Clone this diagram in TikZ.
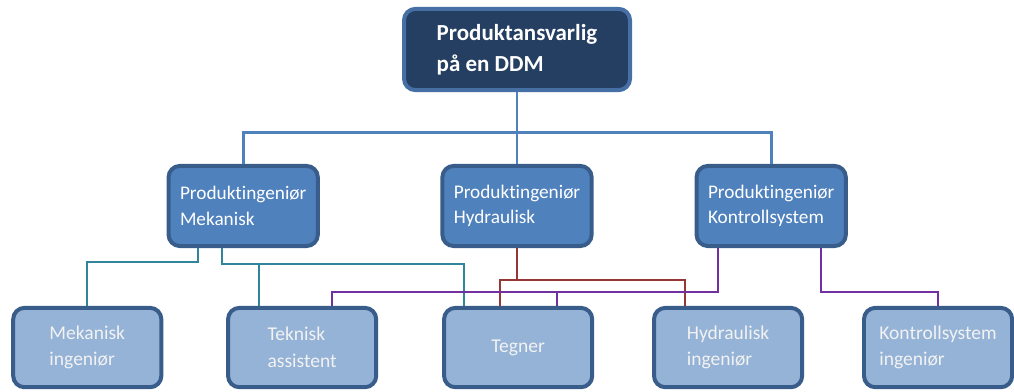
\documentclass[tikz,border=0pt]{standalone}
\usepackage{fontspec}
\setmainfont{Carlito}[Ligatures=NoCommon]
\usetikzlibrary{positioning}
\definecolor{topfill}{RGB}{36,63,98}
\definecolor{topborder}{RGB}{70,112,165}
\definecolor{midfill}{RGB}{79,129,189}
\definecolor{boxborder}{RGB}{56,93,138}
\definecolor{lowfill}{RGB}{149,179,215}
\definecolor{linkblue}{RGB}{79,129,189}
\definecolor{linkteal}{RGB}{49,133,155}
\definecolor{linkred}{RGB}{149,55,53}
\definecolor{linkpurple}{RGB}{112,48,160}

\begin{document}
\begin{tikzpicture}[
    node distance=1.9cm and 3.19cm,
    head/.style={
        rectangle, rounded corners=0.3cm, fill=topfill, draw=topborder,
        line width=3pt, minimum width=5.98cm, minimum height=2.15cm,
        align=left, text=white,
        font=\fontsize{17.3}{23}\selectfont\bfseries
    },
    engineer/.style={
        rectangle, rounded corners=0.3cm, fill=midfill, draw=boxborder,
        line width=3pt, minimum width=3.95cm, minimum height=2.12cm,
        align=left, text=white,
        font=\fontsize{14.5}{19}\selectfont
    },
    staff/.style={
        rectangle, rounded corners=0.3cm, fill=lowfill, draw=boxborder,
        line width=3pt, minimum width=3.92cm, minimum height=2.1cm,
        align=left, text=white!95!black,
        font=\fontsize{14.7}{20}\selectfont
    },
    blueline/.style={draw=linkblue, line width=2.2pt},
    tealline/.style={draw=linkteal, line width=1.5pt},
    redline/.style={draw=linkred, line width=1.5pt},
    purpleline/.style={draw=linkpurple, line width=1.5pt}
]
\useasboundingbox (0,0) rectangle (26.83,-10.37);

% Top
\node[head] (head) at (13.68,-1.31) {Produktansvarlig\\på en DDM};

% Product engineers
\node[engineer, below=of head] (hyd) {Produktingeniør\\Hydraulisk};
\node[engineer, left=of hyd] (mek) {Produktingeniør\\Mekanisk};
\node[engineer, right=2.67cm of hyd] (kon) {Produktingeniør\\Kontrollsystem};

% Staff
\node[staff, below=1.53cm of hyd, xshift=0.03cm] (tegner) {Tegner};
\node[staff, left=1.69cm of tegner] (teknisk) {Teknisk\\assistent};
\node[staff, left=1.66cm of teknisk] (mekIng) {Mekanisk\\ingeniør};
\node[staff, right=1.53cm of tegner] (hydIng) {Hydraulisk\\ingeniør};
\node[staff, right=1.53cm of hydIng] (konIng) {Kontrollsystem\\ingeniør};

% Lines from the top
\draw[blueline] (head.south) -- (hyd.north);
\draw[blueline] (head.south) -- ++(0,-1.08) -| (mek.north);
\draw[blueline] (head.south) -- ++(0,-1.08) -| (kon.north);

% Mekanisk
\draw[tealline] ([xshift=-1.2cm]mek.south) -- ++(0,-0.37) -| (mekIng.north);
\draw[tealline] ([xshift=-0.57cm]mek.south) -- ++(0,-0.42) coordinate (tealbus)
    -| ([xshift=-1.43cm]tegner.north);
\draw[tealline] ([xshift=-1.14cm]teknisk.north) |- (tealbus);

% Hydraulisk
\draw[redline] (hyd.south) -- ++(0,-0.85) coordinate (redbus);
\draw[redline] (redbus) -| ([xshift=-0.48cm]tegner.north);
\draw[redline] (redbus) -| ([xshift=-1.14cm]hydIng.north);

% Kontrollsystem
\draw[purpleline] ([xshift=-1.4cm]kon.south) -- ++(0,-1.16) coordinate (purplebus)
    -| ([xshift=0.79cm]teknisk.north);
\draw[purpleline] ([xshift=1.03cm]tegner.north) |- (purplebus);
\draw[purpleline] ([xshift=1.32cm]kon.south) -- ++(0,-1.16) -| (konIng.north);

\end{tikzpicture}
\end{document}
